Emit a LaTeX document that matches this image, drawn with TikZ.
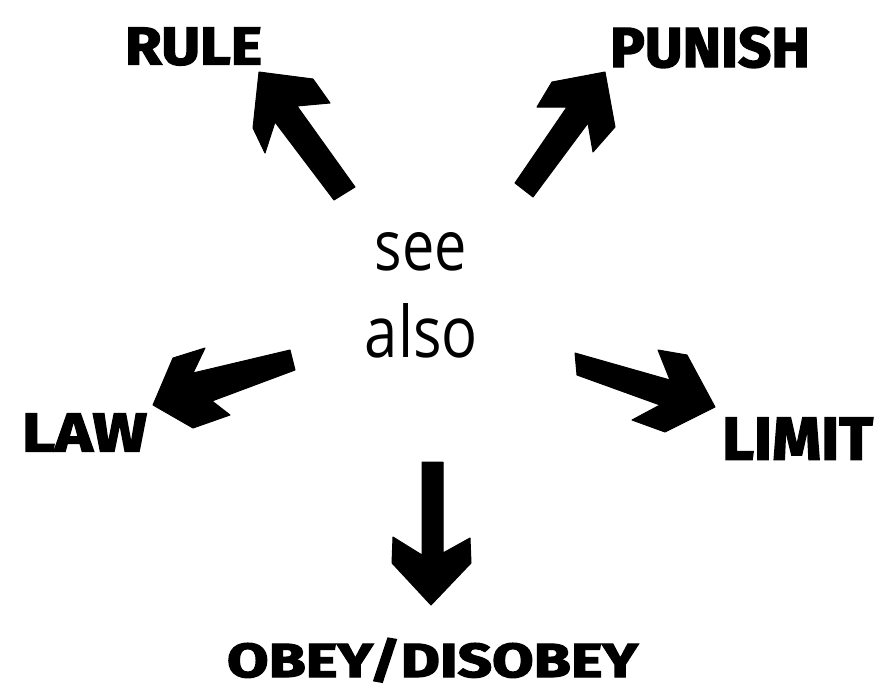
\documentclass[tikz,border=0pt]{standalone}
\usepackage{fontspec}
\usepackage{graphicx}
\setmainfont{Open Sans}
\newfontfamily\heavy[FakeBold=2.5]{Fira Sans Bold}
\tikzset{
  lbl/.style={inner sep=0pt, anchor=center},
  arr/.style={fill=black, draw=black, line width=1pt, line join=round}
}
\begin{document}
\begin{tikzpicture}[x=1pt,y=-1pt]
\useasboundingbox (0,0) rectangle (875,689);
\fill[white] (0,0) rectangle (875,689);
% texts
\node[lbl, anchor=base] (see) at (421,270) {\resizebox{92pt}{38pt}{see}};
\node[lbl, anchor=base] (also) at (421.5,357) {\resizebox{113pt}{54pt}{also}};
\node[lbl] (rule) at (193.5,46.5) {\resizebox{137pt}{37pt}{\heavy RULE}};
\node[lbl] (punish) at (710,47.5) {\resizebox{200pt}{40pt}{\heavy PUNISH}};
\node[lbl] (law) at (84.5,432.5) {\resizebox{125pt}{38pt}{\heavy LAW}};
\node[lbl] (limit) at (797.5,438.5) {\resizebox{151pt}{42pt}{\heavy LIMIT}};
\node[lbl, anchor=base] (obey) at (432.5,677) {\resizebox{411pt}{39pt}{\heavy OBEY/DISOBEY}};
% arrows
\fill[arr] (259,72) -- (313,79) -- (330,103) -- (297,106) -- (355,187) -- (334,200) -- (275,122) -- (265,153) -- (253,128) -- cycle;
\fill[arr] (605,72) -- (552,82) -- (537,107) -- (567,107) -- (515,183) -- (533,197) -- (588,123) -- (593,152) -- (615,127) -- cycle;
\fill[arr] (153,405) -- (193,428) -- (230,415) -- (212,401) -- (295,370) -- (290,350) -- (193,373) -- (205,348) -- (173,358) -- cycle;
\fill[arr] (715,407) -- (687,355) -- (658,350) -- (670,380) -- (575,353) -- (577,375) -- (660,405) -- (632,420) -- (665,432) -- cycle;
\fill[arr] (431,605) -- (392,563) -- (393,537) -- (422,555) -- (422,462) -- (443,462) -- (443,553) -- (470,538) -- (471,563) -- cycle;
\end{tikzpicture}
\end{document}
